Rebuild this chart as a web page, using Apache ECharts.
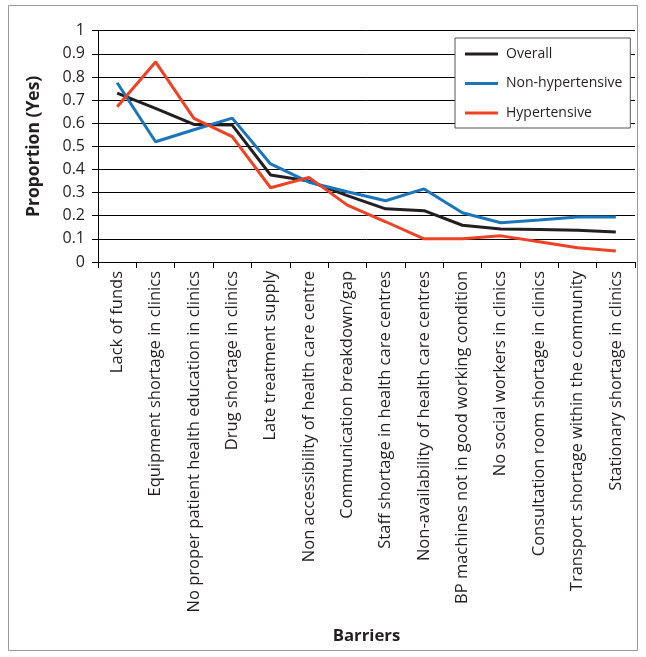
<!DOCTYPE html>
<html><head><meta charset="utf-8">
<script src="https://cdn.jsdelivr.net/npm/echarts@6/dist/echarts.min.js"></script>
<style>html,body{margin:0;padding:0;background:#fff}#c{width:646px;height:657px}</style>
</head><body><div id="c"></div>
<script>
const categories = [
  "Lack of funds",
  "Equipment shortage in clinics",
  "No proper patient health education in clinics",
  "Drug shortage in clinics",
  "Late treatment supply",
  "Non accessibility of health care centre",
  "Communication breakdown/gap",
  "Staff shortage in health care centres",
  "Non-availability of health care centres",
  "BP machines not in good working condition",
  "No social workers in clinics",
  "Consultation room shortage in clinics",
  "Transport shortage within the community",
  "Stationary shortage in clinics"
];
const overall = [0.73, 0.664, 0.595, 0.592, 0.376, 0.35, 0.287, 0.23, 0.222, 0.159, 0.143, 0.141, 0.137, 0.13];
const nonHypertensive = [0.775, 0.52, 0.572, 0.622, 0.424, 0.345, 0.304, 0.265, 0.316, 0.213, 0.17, 0.182, 0.195, 0.195];
const hypertensive = [0.671, 0.865, 0.621, 0.542, 0.321, 0.366, 0.246, 0.174, 0.10, 0.10, 0.113, 0.088, 0.062, 0.048];
const yTicks = [0, 0.1, 0.2, 0.3, 0.4, 0.5, 0.6, 0.7, 0.8, 0.9, 1];

const FONT = "'Open Sans', sans-serif";
const chart = echarts.init(document.getElementById('c'), null, {renderer: 'canvas'});
const mk = (name, data, color) => ({
  name, type: 'line', data, symbol: 'none', smooth: false,
  lineStyle: {color, width: 3}, itemStyle: {color}, z: 5
});
chart.setOption({
  animation: false,
  textStyle: {fontFamily: FONT},
  graphic: [{
    type: 'rect', shape: {x: 8.5, y: 5.5, width: 629, height: 645},
    style: {fill: 'none', stroke: '#9a9a9a', lineWidth: 1}, z: -1
  }],
  grid: {left: 98, right: 11, top: 30.7, bottom: 395, containLabel: false},
  legend: {
    left: 455, top: 38, orient: 'vertical', itemGap: 13.5,
    itemWidth: 33, itemHeight: 3, icon: 'rect',
    padding: [8, 8, 7, 10],
    backgroundColor: '#fff', borderColor: '#555', borderWidth: 1, borderRadius: 0,
    textStyle: {fontFamily: FONT, fontSize: 14, lineHeight: 16, color: '#231f20', padding: [0, 0, 0, 3]},
    data: ['Overall', 'Non-hypertensive', 'Hypertensive']
  },
  xAxis: {
    type: 'category', data: categories, boundaryGap: true,
    name: 'Barriers', nameLocation: 'middle', nameGap: 366,
    nameTextStyle: {fontFamily: FONT, fontSize: 16.8, fontWeight: 'bold', color: '#231f20'},
    axisLine: {lineStyle: {color: '#000', width: 1}},
    axisTick: {show: true, alignWithLabel: false, length: 6, lineStyle: {color: '#000'}},
    axisLabel: {rotate: 90, interval: 0, fontSize: 16.5, color: '#231f20', margin: 9, fontFamily: FONT},
    splitLine: {show: false}
  },
  yAxis: {
    type: 'value', min: 0, max: 1, interval: 0.1,
    name: 'Proportion (Yes)', nameLocation: 'middle', nameGap: 55,
    nameTextStyle: {fontFamily: FONT, fontSize: 17.5, fontWeight: 'bold', color: '#231f20'},
    axisLine: {show: true, lineStyle: {color: '#000', width: 1}},
    axisTick: {show: true, length: 6, lineStyle: {color: '#000'}},
    axisLabel: {fontSize: 16, color: '#231f20', margin: 13, fontFamily: FONT,
      formatter: v => { const t = yTicks.find(x => Math.abs(x - v) < 1e-9); return t === undefined ? '' : String(t); }},
    splitLine: {show: true, lineStyle: {color: '#000', width: 1}}
  },
  series: [
    mk('Overall', overall, '#231f20'),
    mk('Non-hypertensive', nonHypertensive, '#1a75bb'),
    mk('Hypertensive', hypertensive, '#ef4123')
  ]
});
</script></body></html>
